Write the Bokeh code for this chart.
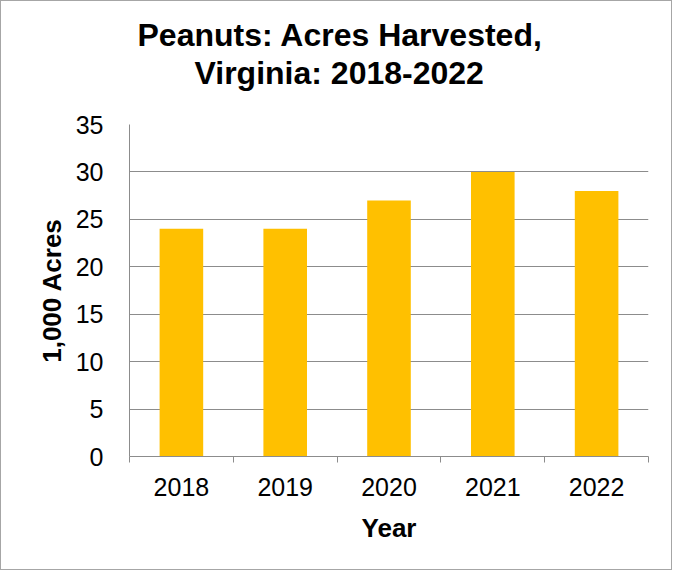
from bokeh.plotting import figure
from bokeh.models import FixedTicker, Range1d, Title, ColumnDataSource
from bokeh.embed import file_html
from bokeh.resources import INLINE

years = ["2018", "2019", "2020", "2021", "2022"]
acres = [24, 24, 27, 30, 28]
y_ticks = [0, 5, 10, 15, 20, 25, 30, 35]
title_lines = ["Peanuts: Acres Harvested,", "Virginia: 2018-2022"]
title_offsets = [8, 65]   # left offsets (px) that centre each line over the chart

xpos = [i + 0.5 for i in range(len(years))]
src = ColumnDataSource(dict(x=xpos, top=acres, year=years))

FONT = "Liberation Sans"
GRAY = "#8c8c8c"

p = figure(width=672, height=570, output_backend="svg", toolbar_location=None,
           x_range=Range1d(0, len(years)), y_range=Range1d(0, 35),
           min_border_left=128, min_border_right=25, min_border_top=123, min_border_bottom=115)
p.title = None

# spacer between title block and the plot area
p.add_layout(Title(text=" ", text_font_size="1px", standoff=31), "above")
# title lines, the one closest to the plot added first
for line, off in reversed(list(zip(title_lines, title_offsets))):
    p.add_layout(Title(text=line, align="left", offset=off, standoff=0,
                       text_font=FONT, text_font_size="32px", text_font_style="bold",
                       text_color="black", text_line_height=0.95), "above")

p.vbar(x="x", top="top", width=0.42, source=src, fill_color="#FFC000", line_color=None)

p.outline_line_color = None
p.styles = {"border": "1px solid #a6a6a6"}

# y axis
p.yaxis.ticker = FixedTicker(ticks=y_ticks)
p.yaxis.major_tick_line_color = None
p.yaxis.minor_tick_line_color = None
p.yaxis.axis_line_color = GRAY
p.yaxis.major_label_text_font = FONT
p.yaxis.major_label_text_font_size = "25px"
p.yaxis.major_label_text_color = "black"
p.yaxis.major_label_standoff = 20
p.yaxis.axis_label = "1,000 Acres"
p.yaxis.axis_label_text_font = FONT
p.yaxis.axis_label_text_font_size = "26px"
p.yaxis.axis_label_text_font_style = "bold"
p.yaxis.axis_label_text_color = "black"
p.yaxis.axis_label_standoff = 6

# x axis
p.xaxis.ticker = FixedTicker(ticks=xpos, minor_ticks=list(range(len(years) + 1)))
p.xaxis.major_label_overrides = {x: y for x, y in zip(xpos, years)}
p.xaxis.major_tick_line_color = None
p.xaxis.minor_tick_line_color = GRAY
p.xaxis.minor_tick_out = 6
p.xaxis.minor_tick_in = 0
p.xaxis.axis_line_color = GRAY
p.xaxis.major_label_text_font = FONT
p.xaxis.major_label_text_font_size = "25px"
p.xaxis.major_label_text_color = "black"
p.xaxis.major_label_standoff = 15
p.xaxis.axis_label = "Year"
p.xaxis.axis_label_text_font = FONT
p.xaxis.axis_label_text_font_size = "26px"
p.xaxis.axis_label_text_font_style = "bold"
p.xaxis.axis_label_text_color = "black"
p.xaxis.axis_label_standoff = 14

p.xgrid.grid_line_color = None
p.ygrid.ticker = FixedTicker(ticks=y_ticks)
p.ygrid.grid_line_color = GRAY

open("out.html", "w").write(file_html(p, INLINE))
